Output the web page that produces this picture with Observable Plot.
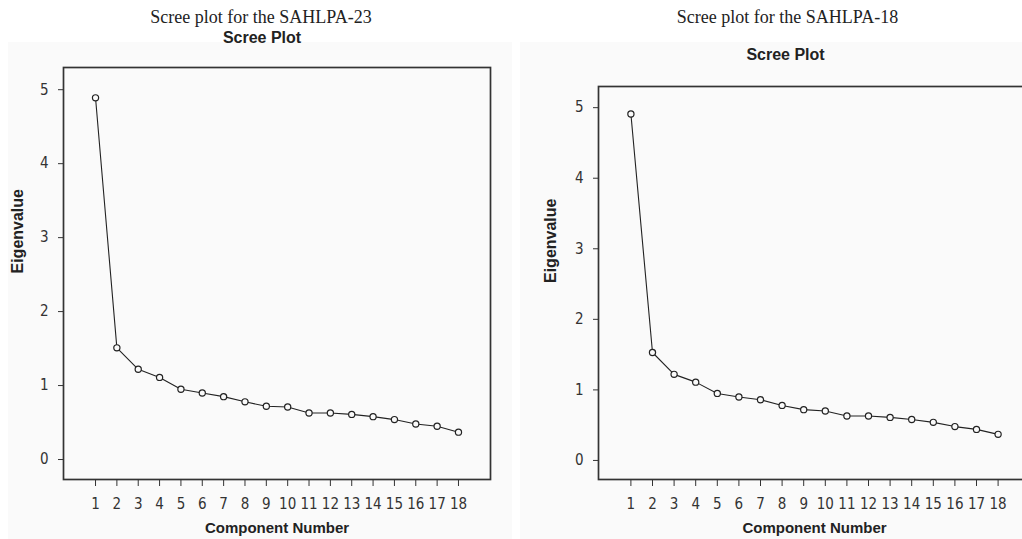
<!DOCTYPE html>
<html><head><meta charset="utf-8">
<script src="https://cdn.jsdelivr.net/npm/d3@7"></script>
<script src="https://cdn.jsdelivr.net/npm/@observablehq/plot@0.6"></script>
<style>
html,body{margin:0;padding:0;background:#fff;}
#wrap{position:relative;width:1022px;height:539px;overflow:hidden;background:#fff;}
.panel{position:absolute;top:42px;bottom:0;background:#fafafa;}
.chart{position:absolute;top:0;}
.chart svg{max-width:none !important;}
</style></head><body>
<div id="wrap">
  <div class="panel" style="left:8px;width:504px;"></div>
  <div class="panel" style="left:520px;right:0;"></div>
  <div class="chart" id="c1" style="left:0px;width:515px;"></div>
  <div class="chart" id="c2" style="left:520px;width:520px;"></div>
</div>
<script>
const components = [1,2,3,4,5,6,7,8,9,10,11,12,13,14,15,16,17,18];
const eigenSAHLPA23 = [4.89,1.51,1.22,1.11,0.95,0.90,0.85,0.78,0.72,0.71,0.63,0.63,0.61,0.58,0.54,0.48,0.45,0.37];
const eigenSAHLPA18 = [4.91,1.53,1.22,1.11,0.95,0.90,0.86,0.78,0.72,0.70,0.63,0.63,0.61,0.58,0.54,0.48,0.44,0.37];
const xTicks = [1,2,3,4,5,6,7,8,9,10,11,12,13,14,15,16,17,18];
const yTicks = [0,1,2,3,4,5];
const panelTitles = ["Scree plot for the SAHLPA-23", "Scree plot for the SAHLPA-18"];
const chartTitle = "Scree Plot";
const xLabel = "Component Number";
const yLabel = "Eigenvalue";

const sans = "'Liberation Sans', Arial, sans-serif";
const narrow = "'Liberation Sans Narrow', 'DejaVu Sans Condensed', 'Liberation Sans', sans-serif";

function scree(values, title, o) {
  const data = components.map((c, i) => ({c, v: values[i]}));
  return Plot.plot({
    width: o.width, height: 539,
    marginLeft: o.ml, marginRight: o.mr, marginTop: o.mt, marginBottom: 60,
    style: {background: "transparent", fontFamily: narrow, fontSize: "15px", color: "#333", overflow: "visible", maxWidth: "none"},
    x: {domain: [-0.5, 19.5]},
    y: {domain: [-0.27, 5.3]},
    marks: [
      Plot.frame({stroke: "#333", strokeWidth: 1.7}),
      Plot.axisX({ticks: xTicks, tickSize: 7, tickPadding: 12, tickFormat: d => String(d), label: null, stroke: "#333", fill: "#333", fontSize: 15}),
      Plot.axisY({ticks: yTicks, tickSize: 5, tickPadding: 10, tickFormat: d => String(d), label: null, stroke: "#333", fill: "#333", fontSize: 15}),
      Plot.line(data, {x: "c", y: "v", stroke: "#222", strokeWidth: 1.1}),
      Plot.dot(data, {x: "c", y: "v", r: 3.1, stroke: "#222", strokeWidth: 1.2, fill: "#fafafa"}),
      Plot.text([xLabel], {frameAnchor: "bottom", dy: 53, fontWeight: "bold", fontSize: 15, fontFamily: sans, fill: "#222"}),
      Plot.text([yLabel], {frameAnchor: "left", dx: o.ldx, rotate: -90, fontWeight: "bold", fontSize: 16, fontFamily: sans, fill: "#222"}),
      Plot.text([chartTitle], {frameAnchor: "top", dx: o.sdx, dy: o.sdy, fontWeight: "bold", fontSize: 16, fontFamily: sans, fill: "#222"}),
      Plot.text([title], {frameAnchor: "top", dx: o.tdx, dy: o.tdy, fontSize: 18, fontFamily: "'Liberation Serif', 'Times New Roman', serif", fill: "#222"})
    ]
  });
}

document.getElementById("c1").appendChild(scree(eigenSAHLPA23, panelTitles[0], {width: 515, ml: 63, mr: 25, mt: 67, ldx: -46, tdx: -16, sdx: -15, sdy: -36, tdy: -57}));
document.getElementById("c2").appendChild(scree(eigenSAHLPA18, panelTitles[1], {width: 520, ml: 78, mr: 10, mt: 86, ldx: -48, tdx: -27, sdx: -29, sdy: -38, tdy: -76}));
</script>
</body></html>
